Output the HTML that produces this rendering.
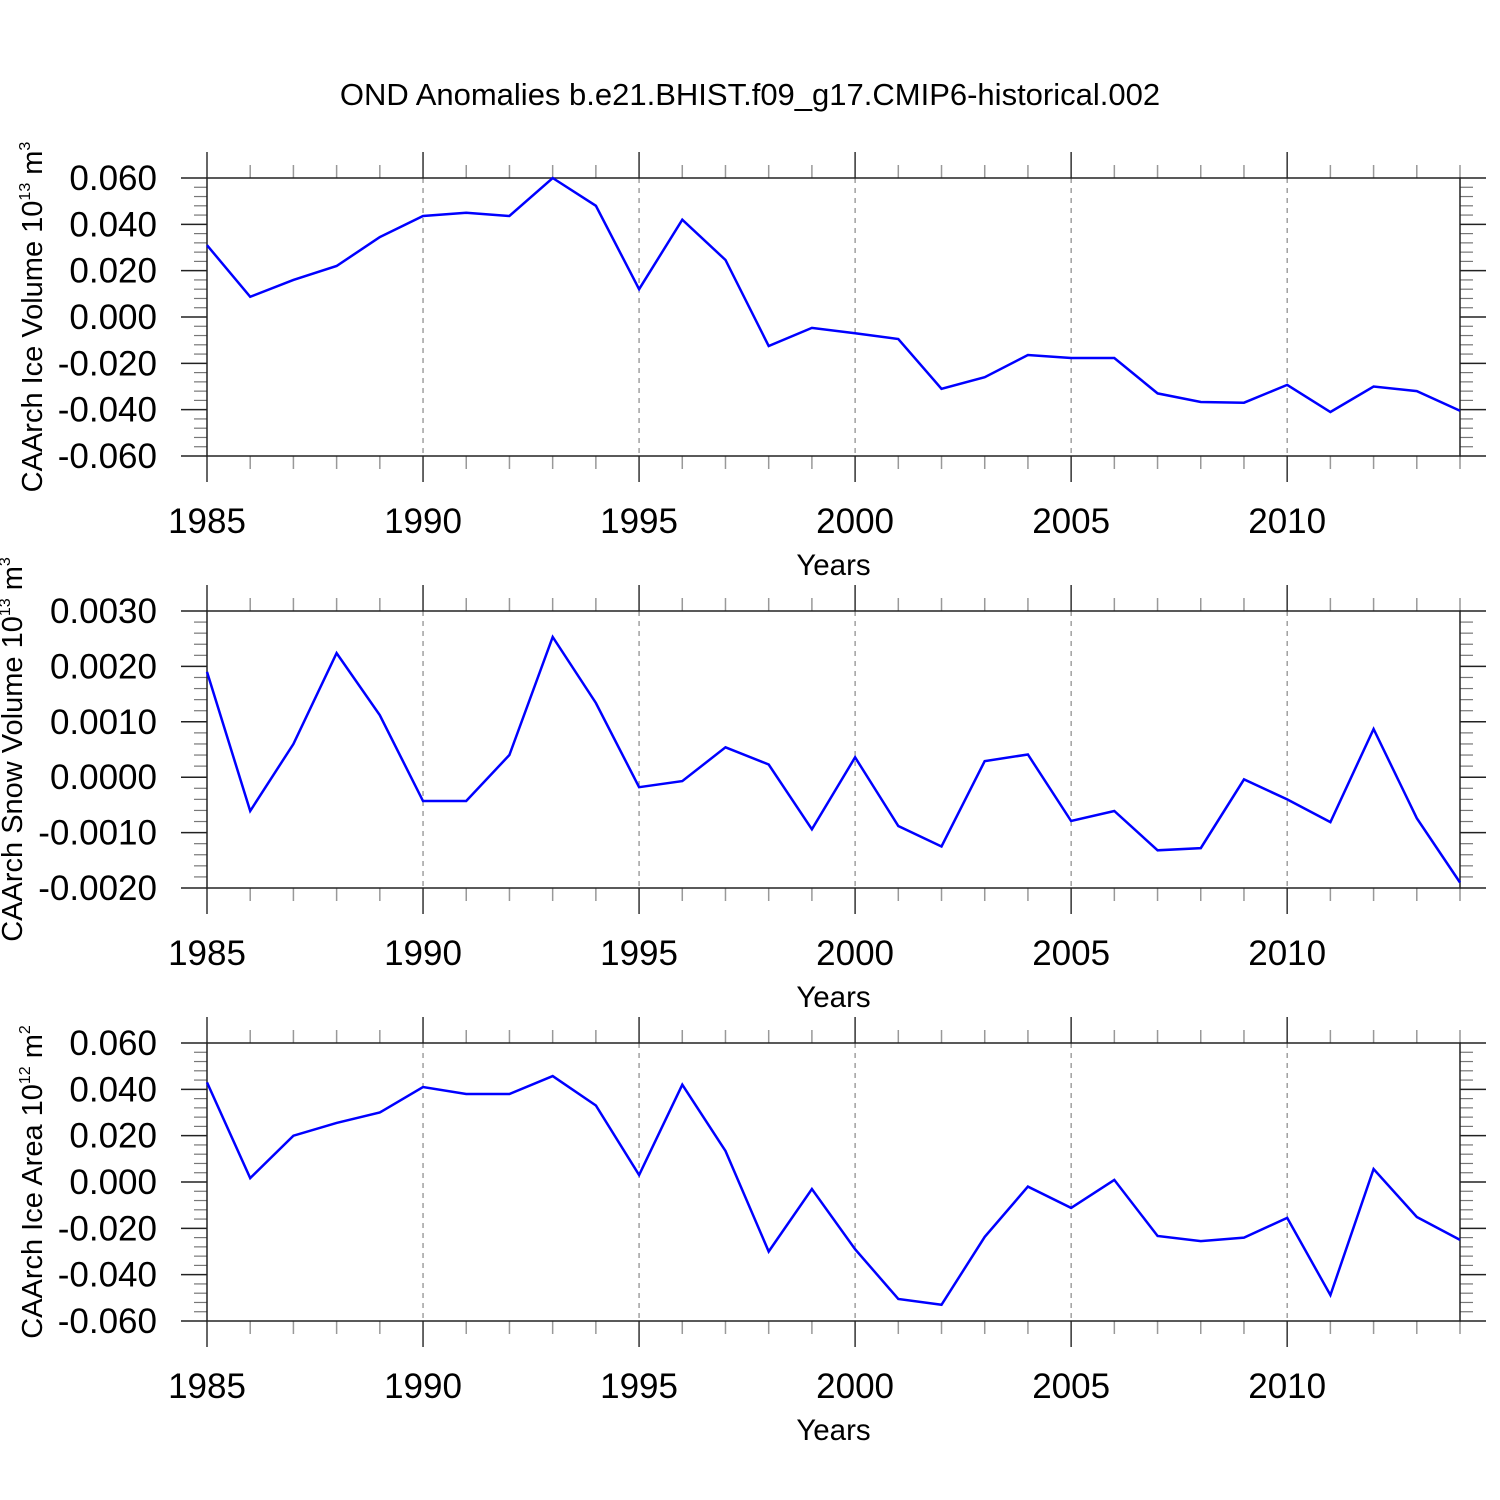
<!DOCTYPE html>
<html><head><meta charset="utf-8"><style>
html,body{margin:0;padding:0;background:#fff}
svg{display:block;font-family:"Liberation Sans",Arial,sans-serif}
</style></head><body>
<svg id="chart" width="1500" height="1500" viewBox="0 0 1500 1500" xmlns="http://www.w3.org/2000/svg">
<rect width="1500" height="1500" fill="#fff"/>
<text x="750" y="105" font-size="31" text-anchor="middle">OND Anomalies b.e21.BHIST.f09_g17.CMIP6-historical.002</text>
</svg>
<script>
const years = [1985,1986,1987,1988,1989,1990,1991,1992,1993,1994,1995,1996,1997,1998,1999,2000,2001,2002,2003,2004,2005,2006,2007,2008,2009,2010,2011,2012,2013,2014];
const iceVolume = [0.031,0.0087,0.016,0.022,0.0345,0.0436,0.045,0.0436,0.060,0.048,0.012,0.042,0.0246,-0.0125,-0.0047,-0.007,-0.0095,-0.031,-0.026,-0.0164,-0.0177,-0.0177,-0.033,-0.0367,-0.037,-0.0293,-0.041,-0.030,-0.032,-0.0405];
const snowVolume = [0.0019,-0.00061,0.0006,0.00224,0.00112,-0.00043,-0.00043,0.0004,0.00253,0.00134,-0.00018,-0.00007,0.00054,0.00023,-0.00094,0.00036,-0.00088,-0.00125,0.00029,0.00041,-0.00079,-0.00061,-0.00132,-0.00128,-0.00004,-0.0004,-0.00081,0.00087,-0.00074,-0.0019];
const iceArea = [0.043,0.0017,0.020,0.0255,0.030,0.041,0.038,0.038,0.0457,0.033,0.003,0.042,0.0134,-0.030,-0.003,-0.029,-0.0505,-0.053,-0.0237,-0.002,-0.0112,0.0009,-0.0233,-0.0255,-0.024,-0.0155,-0.0488,0.0056,-0.0151,-0.025];
const xTickLabels = ["1985","1990","1995","2000","2005","2010"];
const iceTicks = ["0.060","0.040","0.020","0.000","-0.020","-0.040","-0.060"];
const snowTicks = ["0.0030","0.0020","0.0010","0.0000","-0.0010","-0.0020"];

const NS="http://www.w3.org/2000/svg";
const svg=document.getElementById('chart');
function el(tag,attrs,parent){const e=document.createElementNS(NS,tag);for(const k in attrs)e.setAttribute(k,attrs[k]);(parent||svg).appendChild(e);return e;}

const L=207,R=1460;
const xMin=1985,xMax=2014;
function xs(v){return L+(v-xMin)/(xMax-xMin)*(R-L);}

function panel(name,top,bot,yMin,yMax,ticks,series,titleMain,sup,unitSup,titleX){
  const g=el('g',{});
  
  
  const ys=v=>bot-(v-yMin)/(yMax-yMin)*(bot-top);
  for(let y=1990;y<=2010;y+=5){
    const ln=el('line',{x1:xs(y),x2:xs(y),y1:top,y2:bot,stroke:'#888','stroke-width':1.2,'stroke-dasharray':'5,5'},g);
    
    
  }
  for(let y=xMin;y<=xMax;y++){
    const major=(y%5===0);const len=major?26:13;const c=major?'#333':'#999';
    el('line',{x1:xs(y),x2:xs(y),y1:top-len,y2:top,stroke:c,'stroke-width':1.5},g);
    el('line',{x1:xs(y),x2:xs(y),y1:bot,y2:bot+len,stroke:c,'stroke-width':1.5},g);
  }
  const nMaj=ticks.length;
  const step=(yMax-yMin)/(nMaj-1);
  for(let i=0;i<nMaj;i++){
    const v=yMax-i*step;const y=ys(v);
    el('line',{x1:L-26,x2:L,y1:y,y2:y,stroke:'#222','stroke-width':1.5},g);
    el('line',{x1:R,x2:R+26,y1:y,y2:y,stroke:'#222','stroke-width':1.5},g);
    const t=el('text',{x:157,y:y+12,'font-size':35,'text-anchor':'end'},g);
    t.textContent=ticks[i];
    
    
    if(i<nMaj-1){for(let k=1;k<5;k++){const yy=ys(v-k*step/5);
      el('line',{x1:L-13,x2:L,y1:yy,y2:yy,stroke:'#777','stroke-width':1.2},g);
      el('line',{x1:R,x2:R+13,y1:yy,y2:yy,stroke:'#777','stroke-width':1.2},g);}}
  }
  const fr=el('rect',{x:L,y:top,width:R-L,height:bot-top,fill:'none',stroke:'#222','stroke-width':1.5},g);
  
  
  xTickLabels.forEach(s=>{const t=el('text',{x:xs(+s),y:bot+77,'font-size':35,'text-anchor':'middle'},g);t.textContent=s;
    
    });
  const xt=el('text',{x:(L+R)/2,y:bot+119,'font-size':29.5,'text-anchor':'middle'},g);xt.textContent='Years';
  
  
  const cy=(top+bot)/2;
  const yt=el('text',{x:0,y:0,'font-size':29,'text-anchor':'middle',transform:`translate(${titleX},${cy}) rotate(-90)`},g);
  
  
  const s1=el('tspan',{},yt);s1.textContent=titleMain;
  const s2=el('tspan',{'font-size':16,dy:-12},yt);s2.textContent=sup;
  const s3=el('tspan',{dy:12},yt);s3.textContent=' m';
  const s4=el('tspan',{'font-size':16,dy:-12},yt);s4.textContent=unitSup;
  const d=series.map((v,i)=>(i?'L':'M')+xs(years[i]).toFixed(1)+','+ys(v).toFixed(1)).join(' ');
  const p=el('path',{d:d,fill:'none',stroke:'#0000ff','stroke-width':2.5,'stroke-linejoin':'miter'},g);
  
  
}
panel('ice-volume',178,456,-0.06,0.06,iceTicks,iceVolume,'CAArch Ice Volume 10','13','3',42);
panel('snow-volume',611,888,-0.002,0.003,snowTicks,snowVolume,'CAArch Snow Volume 10','13','3',22);
panel('ice-area',1043,1321,-0.06,0.06,iceTicks,iceArea,'CAArch Ice Area 10','12','2',42);
</script>
</body></html>
